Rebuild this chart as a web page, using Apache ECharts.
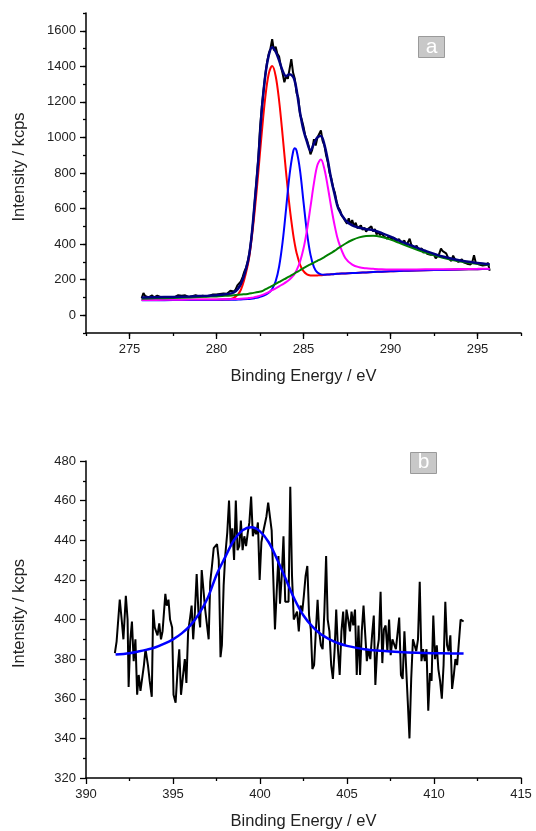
<!DOCTYPE html>
<html><head><meta charset="utf-8">
<script src="https://cdn.jsdelivr.net/npm/echarts@6/dist/echarts.min.js"></script>
<style>html,body{margin:0;padding:0;background:#fff}#c{width:536px;height:831px}</style>
</head><body><div id="c"></div>
<script>
// ---------- Panel a : C 1s ----------
const topRawE = [
275.7,275.8,275.9,276.0,276.1,276.2,276.3,276.4,276.5,276.6,
276.7,276.8,276.9,277.0,277.1,277.2,277.3,277.4,277.5,277.6,
277.7,277.8,277.9,278.0,278.1,278.2,278.3,278.4,278.5,278.6,
278.7,278.8,278.9,279.0,279.1,279.2,279.3,279.4,279.5,279.6,
279.7,279.8,279.9,280.0,280.1,280.2,280.3,280.4,280.5,280.6,
280.7,280.8,280.9,281.0,281.1,281.2,281.3,281.4,281.5,281.6,
281.7,281.8,281.9,282.0,282.1,282.2,282.3,282.4,282.5,282.6,
282.7,282.8,282.9,283.0,283.1,283.2,283.3,283.4,283.5,283.6,
283.7,283.8,283.9,284.0,284.1,284.2,284.3,284.4,284.5,284.6,
284.7,284.8,284.9,285.0,285.1,285.2,285.3,285.4,285.5,285.6,
285.7,285.8,285.9,286.0,286.1,286.2,286.3,286.4,286.5,286.6,
286.7,286.8,286.9,287.0,287.1,287.2,287.3,287.4,287.5,287.6,
287.7,287.8,287.9,288.0,288.1,288.2,288.3,288.4,288.5,288.6,
288.7,288.8,288.9,289.0,289.1,289.2,289.3,289.4,289.5,289.6,
289.7,289.8,289.9,290.0,290.1,290.2,290.3,290.4,290.5,290.6,
290.7,290.8,290.9,291.0,291.1,291.2,291.3,291.4,291.5,291.6,
291.7,291.8,291.9,292.0,292.1,292.2,292.3,292.4,292.5,292.6,
292.7,292.8,292.9,293.0,293.1,293.2,293.3,293.4,293.5,293.6,
293.7,293.8,293.9,294.0,294.1,294.2,294.3,294.4,294.5,294.6,
294.7,294.8,294.9,295.0,295.1,295.2,295.3,295.4,295.5,295.6,
295.7];
const topRawI = [
95,125,108,118,100,98,112,100,97,110,
99,102,98,101,104,99,103,100,106,102,
104,113,105,109,104,112,106,103,110,107,
104,112,108,106,113,109,111,107,115,110,
113,117,112,116,113,120,116,122,130,121,
125,138,128,133,145,168,172,190,215,245,
268,305,355,430,520,640,760,880,1050,1170,
1260,1350,1420,1470,1500,1553,1490,1510,1470,1455,
1400,1360,1310,1345,1330,1385,1440,1365,1330,1250,
1225,1130,1100,1060,1010,985,950,905,930,990,
955,1000,990,1040,980,955,900,860,800,770,
720,690,640,605,590,560,548,530,515,545,
510,535,500,520,490,495,505,480,492,470,
485,478,500,472,485,455,468,450,462,445,
455,430,445,440,425,438,415,425,428,405,
410,420,392,410,430,395,388,380,392,370,
362,375,350,366,345,355,340,330,340,320,
318,345,375,360,352,348,325,330,305,335,
315,325,300,310,315,298,305,290,296,285,
300,338,295,290,285,292,280,288,282,295,
250];

const fitE = [275.7,276.5,277.5,278.5,279.5,280.0,280.5,281.0,281.4,281.8,
282.0,282.2,282.4,282.6,282.8,283.0,283.2,283.4,283.6,283.8,
284.0,284.2,284.4,284.5,284.6,284.8,285.0,285.2,285.4,285.6,
285.8,286.0,286.2,286.4,286.6,286.8,287.0,287.4,287.8,288.2,
288.6,289.0,289.5,290.0,290.5,291.0,292.0,293.0,294.0,295.0,295.7];
const redI = [85,85,86,86,87,87,88,98,143,284,
414,590,801,1024,1222,1357,1402,1346,1205,1011,
802,611,459,400,352,285,248,230,224,223,
224,225,227,229,230,232,233,235,237,239,
241,243,245,247,249,250,253,255,257,259,260];
const blueI = [84,84,85,85,86,86,87,87,89,91,
93,96,100,106,114,126,148,191,274,412,
599,791,918,939,926,815,638,465,341,271,
240,230,228,229,230,232,233,235,237,239,
241,243,245,247,249,250,253,255,257,259,260];
const magentaI = [86,86,87,88,89,89,90,91,93,96,
98,102,107,113,121,130,141,151,162,174,
186,201,221,235,252,301,375,479,609,743,
845,876,823,720,603,500,418,322,285,270,
264,261,258,257,257,257,258,258,260,261,262];
const greenI = [93,95,97,100,104,106,109,112,116,120,
123,127,131,135,145,155,165,176,187,198,
208,219,230,236,242,253,265,276,286,296,
306,316,327,339,351,363,377,402,423,438,
446,447,440,425,407,388,352,323,302,289,283];
const envelopeI = [100,101,103,106,110,113,118,128,175,300,
430,640,870,1150,1345,1460,1508,1482,1432,1375,
1345,1355,1342,1315,1270,1140,1040,975,925,965,
1000,1008,960,870,760,675,600,535,505,492,
484,478,462,442,420,400,362,330,308,294,287];

const topXMajor = [275,280,285,290,295];
const topYMajor = [0,200,400,600,800,1000,1200,1400,1600];

// ---------- Panel b : N 1s ----------
const botRaw = [
[391.66,383],[391.76,389],[391.94,410],[392.05,400],[392.15,390],[392.29,412],[392.39,400],[392.45,366],[392.54,389],[392.64,399],
[392.74,379],[392.84,390],[392.94,362],[393.03,372],[393.13,364],[393.23,365],[393.33,377],[393.42,385],[393.56,377],[393.66,369],
[393.78,361],[393.86,405],[393.95,396],[394.05,396],[394.11,392],[394.21,398],[394.31,390],[394.40,394],[394.56,413],[394.64,407],
[394.74,410],[394.83,400],[394.95,396],[395.03,362],[395.15,358],[395.26,374],[395.36,385],[395.46,362],[395.58,372],[395.68,380],
[395.77,368],[395.87,394],[395.97,400],[396.07,407],[396.16,390],[396.26,404],[396.36,423],[396.46,404],[396.56,396],[396.65,425],
[396.75,424],[396.85,405],[396.95,405],[397.05,390],[397.14,419],[397.24,427],[397.34,436],[397.44,436],[397.53,438],[397.63,430],
[397.73,381],[397.81,387],[397.91,417],[398.00,432],[398.12,444],[398.22,460],[398.32,437],[398.41,446],[398.51,430],[398.61,460],
[398.71,435],[398.81,437],[398.90,450],[399.00,435],[399.10,442],[399.20,437],[399.30,444],[399.39,449],[399.49,462],[399.59,442],
[399.69,446],[399.78,443],[399.88,449],[399.98,420],[400.08,439],[400.18,444],[400.27,445],[400.37,452],[400.47,459],[400.57,460],
[400.67,445],[400.76,422],[400.86,395],[400.96,414],[401.06,432],[401.15,408],[401.25,422],[401.35,442],[401.45,409],[401.55,410],
[401.64,409],[401.74,467],[401.84,422],[401.94,400],[402.04,399],[402.13,404],[402.23,394],[402.33,407],[402.43,404],[402.52,412],
[402.62,422],[402.72,427],[402.82,402],[402.92,395],[403.01,375],[403.11,377],[403.21,394],[403.31,410],[403.40,394],[403.50,387],
[403.60,385],[403.70,404],[403.80,432],[403.89,400],[403.99,394],[404.09,377],[404.19,370],[404.29,385],[404.38,405],[404.48,385],
[404.58,372],[404.68,394],[404.78,404],[404.87,387],[404.97,405],[405.07,400],[405.17,394],[405.26,404],[405.36,397],[405.46,405],
[405.56,372],[405.66,397],[405.75,372],[405.85,394],[405.95,407],[406.05,392],[406.14,379],[406.24,385],[406.34,380],[406.44,392],
[406.54,402],[406.63,367],[406.73,384],[406.83,390],[406.93,414],[407.03,378],[407.12,395],[407.22,397],[407.32,384],[407.42,400],
[407.51,382],[407.61,390],[407.71,389],[407.81,385],[407.91,384],[408.00,401],[408.10,372],[408.20,370],[408.30,394],[408.40,394],
[408.49,359],[408.59,340],[408.69,370],[408.79,390],[408.88,390],[408.98,384],[409.08,390],[409.18,419],[409.28,379],[409.37,385],
[409.47,379],[409.57,385],[409.67,354],[409.77,373],[409.86,369],[409.96,402],[410.06,380],[410.16,387],[410.25,375],[410.35,369],
[410.45,360],[410.55,377],[410.65,409],[410.75,387],[410.84,384],[410.94,392],[411.04,365],[411.14,372],[411.23,380],[411.33,377],
[411.43,377],[411.53,400],[411.62,399],[411.70,399]];
const botFitE = [391.7,392.5,393.0,393.5,394.0,394.5,395.0,395.5,396.0,396.5,
397.0,397.5,398.0,398.5,399.0,399.5,400.0,400.5,401.0,401.5,
402.0,402.5,403.0,403.5,404.0,404.5,405.0,406.0,407.0,408.0,
409.0,410.0,411.0,411.7];
const botFitI = [382.3,383.0,383.8,384.8,386.0,387.8,390.0,393.0,397.0,403.0,
411.0,422.5,431.5,440.0,445.0,446.5,444.5,439.0,430.0,420.0,
410.0,402.0,396.5,392.5,390.0,388.0,386.7,385.0,384.2,383.6,
383.2,383.0,382.9,382.8];

const panelLabels = ['a','b'];
const xTitle = 'Binding Energy / eV';
const yTitle = 'Intensity / kcps';

// ---------- drawing ----------
const FONT = '"Liberation Sans", Arial, sans-serif';
const pairs = (xs, ys) => xs.map((x, i) => [x, ys[i]]);
const inList = (list, v) => list.some(t => Math.abs(t - v) < 1e-6);
const axLine = {color: '#000', width: 1.5};
const tickLine = {color: '#000', width: 1.3};
const lbl = {color: '#222', fontSize: 13, fontFamily: FONT};
const nameStyle = {color: '#222', fontSize: 16.5, fontFamily: FONT};
const yNameStyle = Object.assign({}, nameStyle, {padding: [0, 0, 0, 12]});

function lineSeries(data, color, width, xi, yi, smooth) {
  return {type: 'line', data: data, xAxisIndex: xi, yAxisIndex: yi, showSymbol: false, symbol: 'none',
    smooth: smooth ? 0.35 : false, lineStyle: {color: color, width: width}, itemStyle: {color: color},
    silent: true, animation: false, z: 2};
}

const chart = echarts.init(document.getElementById('c'));
const option = {
  animation: false,
  backgroundColor: '#fff',
  grid: [
    {left: 86, top: 13, width: 435, height: 320},
    {left: 86, top: 461, width: 435, height: 320}
  ],
  xAxis: [
    {gridIndex: 0, type: 'value', min: 272.5, max: 297.5, interval: 2.5, position: 'bottom',
     axisLine: {onZero: false, lineStyle: axLine},
     axisTick: {length: 3, lineStyle: tickLine},
     axisLabel: Object.assign({margin: 10, showMinLabel: true, showMaxLabel: true,
       formatter: v => inList(topXMajor, v) ? String(v) : ''}, lbl),
     splitLine: {show: false},
     name: xTitle, nameLocation: 'middle', nameGap: 35, nameTextStyle: nameStyle},
    {gridIndex: 0, type: 'value', min: 272.5, max: 297.5, position: 'bottom',
     axisLine: {show: false, onZero: false},
     axisTick: {customValues: topXMajor, length: 6, lineStyle: tickLine},
     axisLabel: {show: false}, splitLine: {show: false}},
    {gridIndex: 1, type: 'value', min: 390, max: 415, interval: 5, position: 'bottom',
     axisLine: {onZero: false, lineStyle: axLine},
     axisTick: {length: 6, lineStyle: tickLine},
     minorTick: {show: true, splitNumber: 2, length: 3, lineStyle: tickLine},
     axisLabel: Object.assign({margin: 10}, lbl),
     splitLine: {show: false}, minorSplitLine: {show: false},
     name: xTitle, nameLocation: 'middle', nameGap: 35, nameTextStyle: nameStyle}
  ],
  yAxis: [
    {gridIndex: 0, type: 'value', min: -100, max: 1700, interval: 100, position: 'left',
     axisLine: {show: true, onZero: false, lineStyle: axLine},
     axisTick: {show: true, length: 3, lineStyle: tickLine},
     axisLabel: Object.assign({margin: 10, showMinLabel: true, showMaxLabel: true,
       formatter: v => inList(topYMajor, v) ? String(v) : ''}, lbl),
     splitLine: {show: false},
     name: yTitle, nameLocation: 'middle', nameGap: 58, nameTextStyle: yNameStyle},
    {gridIndex: 0, type: 'value', min: -100, max: 1700, position: 'left',
     axisLine: {show: false, onZero: false},
     axisTick: {show: true, customValues: topYMajor, length: 6, lineStyle: tickLine},
     axisLabel: {show: false}, splitLine: {show: false}},
    {gridIndex: 1, type: 'value', min: 320, max: 480, interval: 20, position: 'left',
     axisLine: {show: true, onZero: false, lineStyle: axLine},
     axisTick: {show: true, length: 6, lineStyle: tickLine},
     minorTick: {show: true, splitNumber: 2, length: 3, lineStyle: tickLine},
     axisLabel: Object.assign({margin: 10}, lbl),
     splitLine: {show: false}, minorSplitLine: {show: false},
     name: yTitle, nameLocation: 'middle', nameGap: 58, nameTextStyle: yNameStyle}
  ],
  series: [
    lineSeries(pairs(topRawE, topRawI), '#000000', 2, 0, 0, false),
    lineSeries(pairs(fitE, redI), '#ff0000', 2, 0, 0, true),
    lineSeries(pairs(fitE, blueI), '#0000ff', 2, 0, 0, true),
    lineSeries(pairs(fitE, magentaI), '#ff00ff', 2, 0, 0, true),
    lineSeries(pairs(fitE, greenI), '#008000', 2, 0, 0, true),
    lineSeries(pairs(fitE, envelopeI), '#000080', 2.5, 0, 0, true),
    lineSeries(botRaw, '#000000', 2, 2, 2, false),
    lineSeries(pairs(botFitE, botFitI), '#0000ff', 2.5, 2, 2, true)
  ],
  graphic: [
    {type: 'group', left: 418, top: 36, children: [
      {type: 'rect', shape: {x: 0, y: 0, width: 26, height: 21},
       style: {fill: '#c8c8c8', stroke: '#9a9a9a', lineWidth: 1}},
      {type: 'text', x: 13, y: 10.5, style: {text: panelLabels[0], fill: '#fff', font: '21px ' + FONT,
       align: 'center', verticalAlign: 'middle'}}
    ]},
    {type: 'group', left: 410, top: 452, children: [
      {type: 'rect', shape: {x: 0, y: 0, width: 26, height: 21},
       style: {fill: '#c8c8c8', stroke: '#9a9a9a', lineWidth: 1}},
      {type: 'text', x: 13, y: 10, style: {text: panelLabels[1], fill: '#fff', font: '21px ' + FONT,
       align: 'center', verticalAlign: 'middle'}}
    ]}
  ]
};
chart.setOption(option);
</script>
</body></html>
